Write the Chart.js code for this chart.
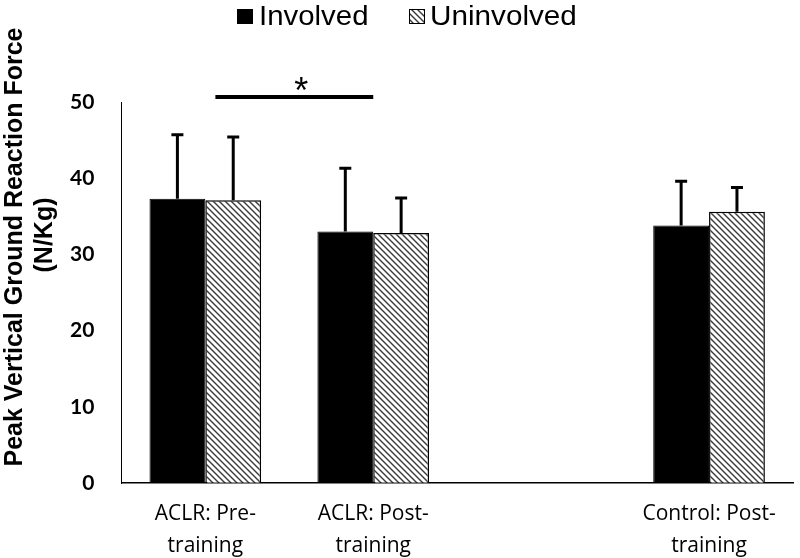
<!DOCTYPE html>
<html>
<head>
<meta charset="utf-8">
<script src="https://cdn.jsdelivr.net/npm/chart.js@4"></script>
<style>
html, body { margin: 0; padding: 0; background: #fff; }
</style>
</head>
<body>
<canvas id="grfChart" width="800" height="558"></canvas>
<script>
// data
var categories = [['ACLR: Pre-', 'training'], ['ACLR: Post-', 'training'], '', ['Control: Post-', 'training']];
var seriesNames = ['Involved', 'Uninvolved'];
var involved = [37.3, 33.0, null, 33.8];
var involvedSD = [8.4, 8.3, null, 5.8];
var uninvolved = [37.1, 32.8, null, 35.6];
var uninvolvedSD = [8.3, 4.6, null, 3.2];
var yTitle = ['Peak Vertical Ground Reaction Force', '(N/Kg)'];

// diagonal hatch fill for the uninvolved bars
function makeHatch() {
    var c = document.createElement('canvas');
    c.width = 6; c.height = 6;
    var g = c.getContext('2d');
    g.fillStyle = '#fff';
    g.fillRect(0, 0, 6, 6);
    g.strokeStyle = '#3a3a3a';
    g.lineWidth = 1.4;
    g.beginPath();
    g.moveTo(0, 0); g.lineTo(6, 6);
    g.moveTo(-3, 3); g.lineTo(3, 9);
    g.moveTo(3, -3); g.lineTo(9, 3);
    g.stroke();
    return g.createPattern(c, 'repeat');
}
var hatch = makeHatch();

// upper error bars only
var errorBars = {
    id: 'errorBars',
    afterDatasetsDraw: function(chart) {
        var ctx = chart.ctx, y = chart.scales.y;
        ctx.save();
        ctx.strokeStyle = '#000';
        ctx.lineWidth = 3;
        chart.data.datasets.forEach(function(ds, i) {
            chart.getDatasetMeta(i).data.forEach(function(bar, j) {
                if (ds.data[j] == null) return;
                var top = y.getPixelForValue(ds.data[j] + ds.sd[j]);
                var base = y.getPixelForValue(ds.data[j]);
                ctx.beginPath();
                ctx.moveTo(bar.x, base);
                ctx.lineTo(bar.x, top);
                ctx.moveTo(bar.x - 6, top);
                ctx.lineTo(bar.x + 6, top);
                ctx.stroke();
            });
        });
        ctx.restore();
    }
};

// legend, y title and significance marker
var extras = {
    id: 'extras',
    afterDraw: function(chart) {
        var ctx = chart.ctx, x = chart.scales.x;
        ctx.save();

        // legend
        ctx.font = '28px "Liberation Sans", Arial, sans-serif';
        ctx.textBaseline = 'alphabetic';
        ctx.fillStyle = '#000';
        ctx.fillRect(237, 9, 16, 15);
        ctx.fillStyle = hatch;
        ctx.fillRect(409, 9, 16, 15);
        ctx.strokeStyle = '#000';
        ctx.lineWidth = 1;
        ctx.strokeRect(409.5, 9.5, 15, 14);
        ctx.fillStyle = '#000';
        ctx.save();
        ctx.translate(259, 25);
        ctx.scale(1.05, 1);
        ctx.fillText(seriesNames[0], 0, 0);
        ctx.restore();
        ctx.save();
        ctx.translate(430, 25);
        ctx.scale(1.06, 1);
        ctx.fillText(seriesNames[1], 0, 0);
        ctx.restore();

        // y title
        ctx.save();
        ctx.font = 'bold 25px "Liberation Sans", Arial, sans-serif';
        ctx.textAlign = 'center';
        ctx.translate(0, 247);
        ctx.rotate(-Math.PI / 2);
        ctx.fillText(yTitle[0], 0, 22);
        ctx.fillText(yTitle[1], 12, 52);
        ctx.restore();

        // significance bar between ACLR pre and post
        var cw = x.getPixelForValue(1) - x.getPixelForValue(0);
        var x0 = x.getPixelForValue(0) + 0.06 * cw;
        var x1 = x.getPixelForValue(1);
        ctx.lineWidth = 4;
        ctx.beginPath();
        ctx.moveTo(x0, 97);
        ctx.lineTo(x1, 97);
        ctx.stroke();
        ctx.font = '36px "Liberation Sans", Arial, sans-serif';
        ctx.textAlign = 'center';
        ctx.fillText('*', (x0 + x1) / 2 + 7, 103);
        ctx.restore();
    }
};

var ctx = document.getElementById('grfChart').getContext('2d');
var chart = new Chart(ctx, {
    type: 'bar',
    data: {
        labels: categories,
        datasets: [{
            label: seriesNames[0],
            data: involved,
            sd: involvedSD,
            backgroundColor: '#000',
            borderColor: '#000',
            borderWidth: 1
        }, {
            label: seriesNames[1],
            data: uninvolved,
            sd: uninvolvedSD,
            backgroundColor: hatch,
            borderColor: '#000',
            borderWidth: 1.5
        }]
    },
    options: {
        responsive: false,
        animation: false,
        layout: {
            padding: { top: 102, left: 43, right: 7, bottom: -19 }
        },
        datasets: {
            bar: { categoryPercentage: 0.665, barPercentage: 1.0 }
        },
        plugins: {
            legend: { display: false },
            tooltip: { enabled: false }
        },
        scales: {
            x: {
                grid: { drawOnChartArea: false, drawTicks: false },
                border: { color: '#000', width: 1.5 },
                ticks: {
                    color: '#000',
                    padding: 15,
                    maxRotation: 0,
                    font: { family: '"Open Sans", sans-serif', size: 21, lineHeight: 1.52 }
                }
            },
            y: {
                min: 0,
                max: 50,
                grid: { drawOnChartArea: false, drawTicks: false },
                border: { color: '#000', width: 1 },
                ticks: {
                    stepSize: 10,
                    color: '#000',
                    padding: 27,
                    font: { family: 'Lato, "Open Sans", sans-serif', size: 21, weight: 'bold' }
                }
            }
        }
    },
    plugins: [errorBars, extras]
});
</script>
</body>
</html>
